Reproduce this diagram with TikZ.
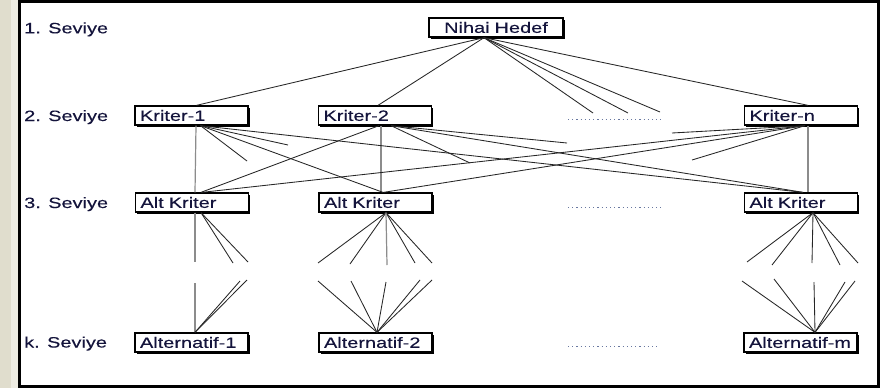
\documentclass[tikz,border=0pt]{standalone}
\usepackage{fontspec}
\setmainfont{Liberation Sans}[FakeStretch=1.33,FakeBold=0.25]
\usetikzlibrary{shadows}
\definecolor{ink}{RGB}{20,20,60}
\definecolor{strip}{RGB}{224,221,205}
\definecolor{striplight}{RGB}{238,236,226}
\definecolor{dotblue}{RGB}{105,120,160}
\tikzset{
  lbl/.style={font=\fontsize{15}{18}\selectfont, text=ink},
  box/.style={lbl, draw=black, line width=1.3pt, fill=white,
    minimum height=19pt, inner xsep=5pt, inner ysep=0pt,
    text width=103pt, align=left,
    drop shadow={shadow xshift=1.6pt, shadow yshift=-1.6pt, fill=black, opacity=1}},
  goal/.style={box, text width=124pt, align=center},
  level/.style={lbl, anchor=base west, inner sep=0pt},
  link/.style={line width=0.85pt, black!85},
  stem/.style={line width=1.2pt, black!45},
  gapdots/.style={dotblue, line width=0.9pt, dash pattern=on 1.2pt off 3pt},
}
\begin{document}
\begin{tikzpicture}[x=1pt, y=-1pt]
\useasboundingbox (0,0) rectangle (882,388);
% page background and frame
\fill[white] (0,0) rectangle (882,388);
\fill[strip] (0,0) rectangle (11,388);
\fill[striplight] (11,0) rectangle (18,388);
\draw[line width=3pt] (19.5,1.5) rectangle (878.5,386);

% level labels
\node[level] (s1) at (24,33.3) {1. Seviye};
\node[level] (s2) at (24,121) {2. Seviye};
\node[level] (s3) at (24,208) {3. Seviye};
\node[level] (sk) at (24,347.5) {k. Seviye};

% hierarchy boxes
\node[goal] (nh) at (496,27.5) {Nihai Hedef};
\node[box] (k1) at (191.5,115.5) {Kriter-1};
\node[box] (k2) at (375,115.5) {Kriter-2};
\node[box] (kn) at (801,115.5) {Kriter-n};
\node[box] (ak1) at (192,202.5) {Alt Kriter};
\node[box] (ak2) at (375.5,202.5) {Alt Kriter};
\node[box] (ak3) at (801,202.5) {Alt Kriter};
\node[box] (al1) at (191.5,342.5) {Alternatif-1};
\node[box] (al2) at (375.5,342.5) {Alternatif-2};
\node[box] (alm) at (800.5,342.5) {Alternatif-m};

% elision marks
\coordinate (d1a) at (568,119);  \coordinate (d1b) at (661,119);
\coordinate (d2a) at (568,207);  \coordinate (d2b) at (661,207);
\coordinate (d3a) at (568,346);  \coordinate (d3b) at (660,346);
\draw[gapdots] (d1a) -- (d1b);
\draw[gapdots] (d2a) -- (d2b);
\draw[gapdots] (d3a) -- (d3b);

% goal to criteria
\coordinate (n0) at ([xshift=-12pt]nh.south);
\coordinate (ns1) at (593,113);
\coordinate (ns2) at (628,113);
\coordinate (ns3) at (660,112);
\draw[link] (n0) -- ([xshift=5pt]k1.north);
\draw[link] (n0) -- ([xshift=3pt]k2.north);
\draw[link] (n0) -- ([xshift=7pt]kn.north);
\foreach \e in {ns1,ns2,ns3} \draw[link] (n0) -- (\e);

% criteria to sub-criteria
\coordinate (k1s1) at (247,161);
\coordinate (k1s2) at (288,145);
\coordinate (k2s1) at (470,163);
\coordinate (k2s2) at (567,143);
\coordinate (kns1) at (672,133);
\coordinate (kns2) at (692,160);
\draw[stem] ([xshift=4.5pt]k1.south) -- ([xshift=3pt]ak1.north);
\draw[stem] ([xshift=6pt]k2.south) -- ([xshift=5.5pt]ak2.north);
\draw[stem] ([xshift=7pt]kn.south) -- ([xshift=7pt]ak3.north);
\coordinate (k1o) at ([xshift=9pt]k1.south);
\draw[link] (k1o) -- (k1s1);
\draw[link] (k1o) -- (k1s2);
\draw[link] (k1o) -- ([xshift=7.5pt]ak2.north);
\draw[link] (k1o) -- ([xshift=2pt]ak3.north);
\coordinate (k2o) at ([xshift=16pt]k2.south);
\draw[link] ([xshift=4pt]k2.south) -- ([xshift=9pt]ak1.north);
\draw[link] (k2o) -- (k2s1);
\draw[link] (k2o) -- (k2s2);
\draw[link] (k2o) -- ([xshift=2pt]ak3.north);
\coordinate (kno) at ([xshift=4pt]kn.south);
\draw[link] (kno) -- (kns1);
\draw[link] (kno) -- (kns2);
\draw[link] (kno) -- ([xshift=10pt]ak1.north);
\draw[link] (kno) -- ([xshift=8pt]ak2.north);

% sub-criteria to alternatives (interrupted fans)
\coordinate (a1v) at (195,262);
\coordinate (a1u1) at (233,263);
\coordinate (a1u2) at (248,262);
\draw[stem] ([xshift=3pt]ak1.south) -- (a1v);
\draw[link] ([xshift=9pt]ak1.south) -- (a1u1);
\draw[link] ([xshift=9pt]ak1.south) -- (a1u2);
\coordinate (l1v) at (195,283);
\coordinate (l1a) at (240,281);
\coordinate (l1b) at (247,280);
\draw[stem] ([xshift=3.5pt]al1.north) -- (l1v);
\draw[link] ([xshift=3.5pt]al1.north) -- (l1a);
\draw[link] ([xshift=3.5pt]al1.north) -- (l1b);

\coordinate (a2o) at ([xshift=10.5pt]ak2.south);
\foreach \p in {(318,263),(350,264),(415,263),(432,263)} \draw[link] (a2o) -- \p;
\draw[stem] (a2o) -- (387,265);
\coordinate (l2o) at ([xshift=1.5pt]al2.north);
\foreach \p in {(318,281),(351,281),(386,282),(420,280),(432,280)} \draw[link] (l2o) -- \p;

\coordinate (a3o) at ([xshift=12pt]ak3.south);
\foreach \p in {(747,262),(772,265),(812,263),(840,265),(858,263)} \draw[link] (a3o) -- \p;
\coordinate (l3o) at ([xshift=14.5pt]alm.north);
\foreach \p in {(742,281),(774,279),(814,282),(845,282),(855,281)} \draw[link] (l3o) -- \p;
\end{tikzpicture}
\end{document}
